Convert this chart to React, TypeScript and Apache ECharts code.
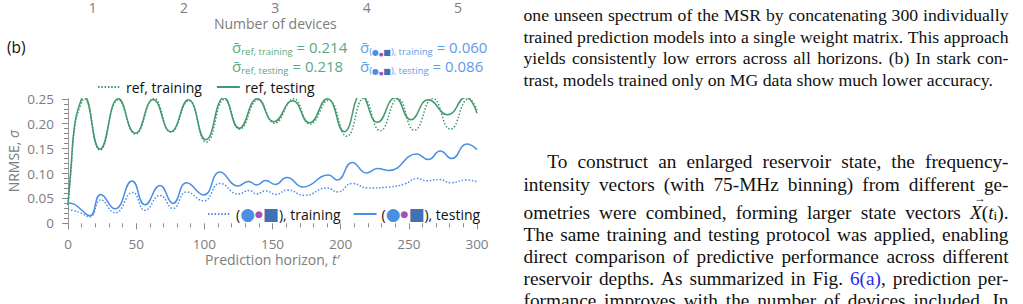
import React, { useEffect, useRef } from "react";
import * as echarts from "echarts";

// ---------------- data ----------------
const deviceTicks = ["1", "2", "3", "4", "5"];

const refTestingT = [0, 2, 5, 8.8, 11.5, 23.5, 37, 49.4, 62.5, 75.3, 88.3, 101, 114.4, 125.6, 138.9, 151, 164.8, 177, 190.2, 202.6, 215, 227, 240, 251.5, 264.3, 278.5, 291.8, 300];
const refTestingV = [0.037, 0.105, 0.2, 0.241, 0.256, 0.149, 0.25, 0.181, 0.248, 0.184, 0.248, 0.168, 0.252, 0.191, 0.25, 0.204, 0.246, 0.202, 0.25, 0.184, 0.258, 0.203, 0.252, 0.208, 0.248, 0.218, 0.253, 0.221];

const refTrainingT = [0, 2, 5, 9, 12, 23.5, 37, 49.4, 63, 75.5, 88.5, 101.5, 115, 126, 139.5, 151.5, 165.5, 177.5, 191, 204.5, 217, 229, 242, 254, 267.6, 280.5, 294, 300];
const refTrainingV = [0.037, 0.1, 0.195, 0.236, 0.25, 0.147, 0.248, 0.179, 0.251, 0.183, 0.246, 0.163, 0.249, 0.189, 0.248, 0.201, 0.25, 0.199, 0.247, 0.175, 0.251, 0.186, 0.25, 0.187, 0.251, 0.189, 0.25, 0.228];

const mixTestingT = [0, 4, 9, 16, 24, 34.5, 47, 56.5, 67.5, 77, 87, 99.5, 111.5, 124.5, 132.5, 138.5, 145, 152, 160.5, 172.5, 191, 197.5, 208.5, 219, 227, 235.5, 255.8, 264.3, 273, 281.5, 292.4, 300];
const mixTestingV = [0.041, 0.039, 0.029, 0.015, 0.058, 0.029, 0.085, 0.037, 0.076, 0.04, 0.0815, 0.057, 0.103, 0.075, 0.084, 0.077, 0.086, 0.078, 0.092, 0.073, 0.097, 0.087, 0.122, 0.101, 0.11, 0.106, 0.139, 0.128, 0.145, 0.13, 0.159, 0.148];

const mixTrainingT = [0, 5, 9, 16, 24, 34.5, 47.5, 56.5, 67.5, 77, 87, 99.5, 111.5, 125, 133, 138.5, 145, 152.5, 161, 173.5, 190, 198, 208.5, 220, 236, 247, 256, 263, 272.5, 281, 292, 300];
const mixTrainingV = [0.028, 0.025, 0.021, 0.013, 0.047, 0.021, 0.062, 0.026, 0.056, 0.03, 0.063, 0.045, 0.08, 0.059, 0.066, 0.059, 0.065, 0.058, 0.067, 0.056, 0.071, 0.063, 0.08, 0.071, 0.073, 0.079, 0.09, 0.0855, 0.088, 0.0815, 0.087, 0.0835];

const seriesNames = ["ref, training", "ref, testing", "mix, training", "mix, testing"];
const sigmaRef = { training: "0.214", testing: "0.218" };
const sigmaMix = { training: "0.060", testing: "0.086" };

const captionLines = [
  "one unseen spectrum of the MSR by concatenating 300 individually",
  "trained prediction models into a single weight matrix. This approach",
  "yields consistently low errors across all horizons.  (b) In stark con-",
  "trast, models trained only on MG data show much lower accuracy.",
];
const bodyLines = [
  "To construct an enlarged reservoir state, the frequency-",
  "intensity vectors (with 75-MHz binning) from different ge-",
  "ometries were combined, forming larger state vectors X(ti).",
  "The same training and testing protocol was applied, enabling",
  "direct comparison of predictive performance across different",
  "reservoir depths.  As summarized in Fig. 6(a), prediction per-",
  "formance improves with the number of devices included.  In",
];

// ---------------- component ----------------
export default function App() {
  const ref = useRef<HTMLDivElement>(null);

  useEffect(() => {
    const el = ref.current!;
    const chart = echarts.init(el, null, { renderer: "svg" });

    const FONT = "'Open Sans', sans-serif";
    const GREEN = "#43996f";
    const GREEN_TXT = "#5aa985";
    const BLUE = "#4a8fe2";
    const BLUE_TXT = "#5c9ce9";
    const PURPLE = "#a34fb3";
    const NAVY = "#3f72b4";
    const GRAY = "#7d7d7d";
    const SYMF = "'DejaVu Sans', sans-serif";

    const zip = (t: number[], v: number[]) => t.map((x, i) => [x, v[i]]);

    // ---------- text column (justified) ----------
    const SERIF = "'Liberation Serif', 'Times New Roman', serif";
    const canvas = document.createElement("canvas");
    const ctx = canvas.getContext("2d")!;
    const measure = (s: string, size: number, italic = false) => {
      ctx.font = `${italic ? "italic " : ""}${size}px "Liberation Serif"`;
      return ctx.measureText(s).width;
    };
    const textEls: any[] = [];
    const layoutLine = (line: string, left: number, right: number, y: number, justify: boolean, FS: number) => {
      const special: Record<string, { text: string; width: number; arrow?: boolean }> = {
        "6(a),": { text: "{lnk|6(a)},", width: measure("6(a),", FS) },
        "X(ti).": {
          text: "{it|X}({it|t}{sb|i}).",
          width: measure("X", FS, true) + measure("(", FS) + measure("t", FS, true) + measure("i", FS * 0.7) + measure(").", FS),
          arrow: true,
        },
      };
      const richSerif = {
        lnk: { fill: "#2a2ae6", fontSize: FS, fontFamily: SERIF },
        it: { fontStyle: "italic", fontSize: FS, fontFamily: SERIF, fill: "#111" },
        sb: { fontSize: FS * 0.7, fontFamily: SERIF, fill: "#111", verticalAlign: "bottom", lineHeight: FS * 0.6 },
      };
      const words = line.split(/\s+/);
      const items = words.map((w) => (special[w] ? { ...special[w] } : { text: w, width: measure(w, FS) }));
      const total = items.reduce((a, b) => a + b.width, 0);
      let gap = justify ? (right - left - total) / (items.length - 1) : measure(" ", FS);
      gap = Math.max(gap, FS * 0.16);
      let x = left;
      items.forEach((it: any) => {
        textEls.push({
          type: "text",
          x,
          y,
          silent: true,
          style: {
            text: it.text,
            fill: "#111",
            fontSize: FS,
            fontFamily: SERIF,
            rich: richSerif,
            align: "left",
            verticalAlign: "middle",
            textAlign: "left",
            textVerticalAlign: "middle",
          },
        });
        if (it.arrow) {
          textEls.push({
            type: "text",
            x: x + FS * 0.22,
            y: y - FS * 0.74,
            silent: true,
            style: { text: "→", fill: "#111", fontSize: FS * 0.6, fontFamily: SERIF, align: "left", verticalAlign: "middle" },
          });
        }
        x += it.width + gap;
      });
    };
    const L = 523.5, R = 1008.5;
    const CAP_FS = 17.7;
    const BODY_FS = 19.3;
    const capY = [15, 36.5, 58, 79.5];
    captionLines.forEach((ln, i) => layoutLine(ln, L, R, capY[i], i < captionLines.length - 1, CAP_FS));
    const bodyY = [161.7, 184, 212.8, 234.8, 256.5, 278.2, 300];
    bodyLines.forEach((ln, i) => layoutLine(ln, i === 0 ? 547.3 : L, R, bodyY[i], true, BODY_FS));

    // ---------- sigma annotations ----------
    const sigRich = (col: string) => ({
      s: { fontSize: 15, fontFamily: FONT, fill: col, lineHeight: 20, verticalAlign: "middle" },
      m: { fontSize: 15, fontFamily: FONT, fill: col, lineHeight: 20, verticalAlign: "middle" },
      sub: { fontSize: 9.5, fontFamily: FONT, fill: col, lineHeight: 9, verticalAlign: "bottom" },
      c: { fontSize: 8, fontFamily: SYMF, fill: BLUE, lineHeight: 9, verticalAlign: "bottom" },
      d: { fontSize: 5, fontFamily: SYMF, fill: PURPLE, lineHeight: 9, verticalAlign: "bottom" },
      q: { fontSize: 8, fontFamily: SYMF, fill: NAVY, lineHeight: 9, verticalAlign: "bottom" },
    });
    const sigmaEl = (x: number, y: number, text: string, col: string) => ({
      type: "text",
      x,
      y,
      silent: true,
      style: { text, rich: sigRich(col), fill: col, fontSize: 15, fontFamily: FONT, align: "left", verticalAlign: "middle" },
    });
    const SIG = "σ\u0304";

    const legendRich = {
      c: { color: BLUE, fontSize: 17, fontFamily: SYMF },
      d: { color: PURPLE, fontSize: 9, fontFamily: SYMF },
      q: { color: NAVY, fontSize: 17, fontFamily: SYMF },
    };

    const hiddenSymbol = { color: "rgba(0,0,0,0)", borderWidth: 0, opacity: 0 };

    const option: any = {
      animation: false,
      textStyle: { fontFamily: FONT },
      grid: [
        { left: 68, right: 546, top: 98.8, height: 124.5 },
        { left: 92.7, right: 565, top: -72, height: 52 },
      ],
      xAxis: [
        {
          gridIndex: 0,
          type: "value",
          min: 0,
          max: 300,
          interval: 50,
          offset: 3,
          axisLine: { show: false },
          axisTick: { show: true, length: 6, lineStyle: { color: "#8a8a8a" } },
          minorTick: { show: true, splitNumber: 5, length: 4, lineStyle: { color: "#8a8a8a" } },
          splitLine: { show: false },
          axisLabel: { color: GRAY, fontSize: 13.5, margin: 10, fontFamily: FONT, lineHeight: 15 },
          name: "Prediction horizon, {i|t}′",
          nameLocation: "middle",
          nameGap: 26,
          nameTextStyle: {
            color: GRAY,
            fontSize: 14,
            lineHeight: 15,
            fontFamily: FONT,
            rich: { i: { fontStyle: "italic", color: GRAY, fontSize: 14, lineHeight: 15, fontFamily: FONT } },
          },
        },
        {
          gridIndex: 1,
          type: "category",
          data: deviceTicks,
          boundaryGap: false,
          axisLine: { show: false },
          axisTick: { show: false },
          axisLabel: { color: GRAY, fontSize: 14, margin: 7, fontFamily: FONT, lineHeight: 15 },
          name: "Number of devices",
          nameLocation: "middle",
          nameGap: 23,
          nameTextStyle: { color: GRAY, fontSize: 14, fontFamily: FONT, lineHeight: 15 },
        },
      ],
      yAxis: [
        {
          gridIndex: 0,
          type: "value",
          min: 0,
          max: 0.25,
          interval: 0.05,
          offset: 6,
          axisLine: { show: true, lineStyle: { color: "#9a9a9a" } },
          axisTick: { show: true, length: 6, lineStyle: { color: "#8a8a8a" } },
          minorTick: { show: true, splitNumber: 5, length: 4, lineStyle: { color: "#8a8a8a" } },
          splitLine: { show: false },
          axisLabel: {
            color: GRAY,
            fontSize: 13.5,
            margin: 8,
            fontFamily: FONT,
            formatter: (v: number) => (v === 0 ? "0" : v.toFixed(2)),
          },
          name: "NRMSE, {i|σ}",
          nameLocation: "middle",
          nameGap: 42,
          nameTextStyle: {
            color: GRAY,
            fontSize: 14,
            fontFamily: FONT,
            rich: { i: { fontStyle: "italic", color: GRAY, fontSize: 14, fontFamily: FONT } },
          },
        },
        { gridIndex: 1, type: "value", show: false },
      ],
      legend: [
        {
          data: [seriesNames[0], seriesNames[1]],
          left: 97,
          top: 80,
          itemWidth: 23,
          itemHeight: 14,
          itemGap: 14,
          padding: 0,
          selectedMode: false,
          itemStyle: hiddenSymbol,
          textStyle: { color: "#111", fontSize: 14, fontFamily: FONT },
        },
        {
          data: [seriesNames[2], seriesNames[3]],
          left: 207,
          top: 205.5,
          itemWidth: 23,
          itemHeight: 14,
          itemGap: 12,
          padding: 0,
          selectedMode: false,
          itemStyle: hiddenSymbol,
          formatter: (name: string) => "({c|●}{d|●}{q|■}), " + name.split(", ")[1],
          textStyle: { color: "#111", fontSize: 14, fontFamily: FONT, rich: legendRich },
        },
      ],
      series: [
        {
          name: seriesNames[0],
          type: "line",
          data: zip(refTrainingT, refTrainingV),
          smooth: 0.5,
          symbol: "none",
          lineStyle: { color: GREEN, width: 1.5, type: [1.5, 1.8] },
          itemStyle: { color: GREEN },
          z: 2,
        },
        {
          name: seriesNames[1],
          type: "line",
          data: zip(refTestingT, refTestingV),
          smooth: 0.5,
          symbol: "none",
          lineStyle: { color: GREEN, width: 1.5, type: "solid" },
          itemStyle: { color: GREEN },
          z: 3,
        },
        {
          name: seriesNames[2],
          type: "line",
          data: zip(mixTrainingT, mixTrainingV),
          smooth: 0.5,
          symbol: "none",
          lineStyle: { color: BLUE, width: 1.5, type: [1.5, 1.8] },
          itemStyle: { color: BLUE },
          z: 2,
        },
        {
          name: seriesNames[3],
          type: "line",
          data: zip(mixTestingT, mixTestingV),
          smooth: 0.5,
          symbol: "none",
          lineStyle: { color: BLUE, width: 1.5, type: "solid" },
          itemStyle: { color: BLUE },
          z: 3,
        },
      ],
      graphic: [
        {
          type: "text",
          x: 7,
          y: 46.5,
          silent: true,
          style: { text: "(b)", fill: "#111", fontSize: 15.5, fontFamily: FONT, align: "left", verticalAlign: "middle" },
        },
        sigmaEl(232, 46.5, `{s|${SIG}}{sub|ref, training}{m| = ${sigmaRef.training}}`, GREEN_TXT),
        sigmaEl(232, 65.5, `{s|${SIG}}{sub|ref, testing}{m| = ${sigmaRef.testing}}`, GREEN_TXT),
        sigmaEl(360, 46.5, `{s|${SIG}}{sub|(}{c|●}{d|●}{q|■}{sub|), training}{m| = ${sigmaMix.training}}`, BLUE_TXT),
        sigmaEl(360, 65.5, `{s|${SIG}}{sub|(}{c|●}{d|●}{q|■}{sub|), testing}{m| = ${sigmaMix.testing}}`, BLUE_TXT),
        ...textEls,
      ],
    };

    chart.setOption(option);
    return () => chart.dispose();
  }, []);

  return (
    <div
      ref={ref}
      style={{ position: "absolute", left: 0, top: 0, width: 1023, height: 304, background: "#fff" }}
    />
  );
}
